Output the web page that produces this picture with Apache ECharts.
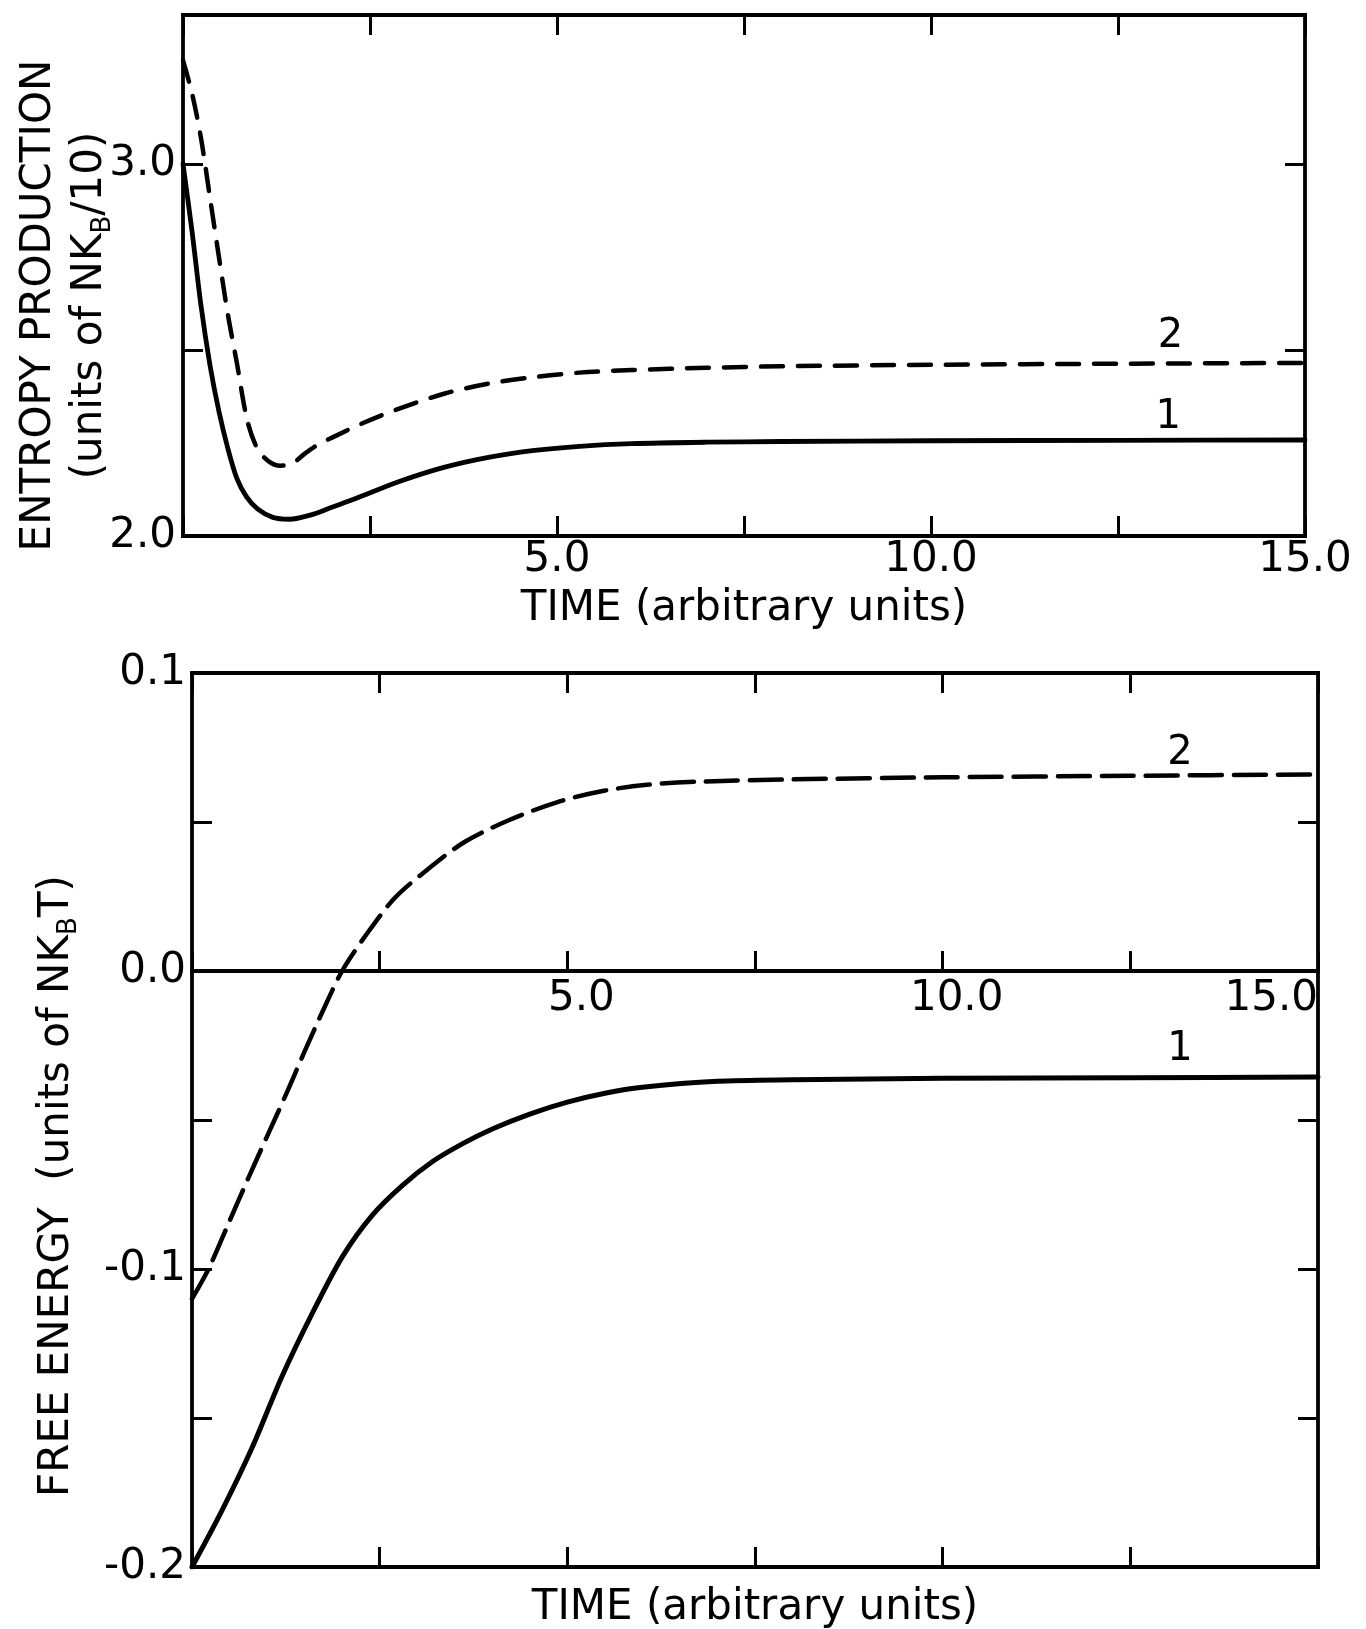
<!DOCTYPE html>
<html>
<head>
<meta charset="utf-8">
<script src="https://cdn.jsdelivr.net/npm/echarts@6/dist/echarts.min.js"></script>
<style>
html,body{margin:0;padding:0;background:#fff;}
#c{width:1366px;height:1629px;}
</style>
</head>
<body>
<div id="c"></div>
<script>
// ---------- data ----------
// Upper panel: entropy production (units of NkB/10) vs time
const entropyTime1 = [0, 0.12, 0.24, 0.36, 0.48, 0.6, 0.72, 0.85, 1.0, 1.2, 1.42, 1.7, 2.0, 2.3, 2.9, 3.5, 4.1, 4.7, 5.3, 6.0, 7.0, 8.0, 10.0, 12.5, 15.0];
const entropy1     = [3.0, 2.82, 2.62, 2.46, 2.335, 2.235, 2.155, 2.105, 2.072, 2.05, 2.045, 2.056, 2.078, 2.10, 2.147, 2.185, 2.212, 2.23, 2.241, 2.248, 2.252, 2.254, 2.256, 2.257, 2.258];
const entropyTime2 = [0, 0.12, 0.24, 0.36, 0.48, 0.6, 0.72, 0.86, 1.0, 1.15, 1.3, 1.45, 1.62, 1.8, 2.0, 2.4, 2.9, 3.5, 4.1, 4.7, 5.3, 6.0, 7.0, 8.0, 10.0, 12.5, 15.0];
const entropy2     = [3.278, 3.19, 3.07, 2.91, 2.75, 2.595, 2.465, 2.31, 2.232, 2.2, 2.189, 2.193, 2.22, 2.245, 2.265, 2.303, 2.343, 2.383, 2.41, 2.427, 2.439, 2.446, 2.452, 2.456, 2.46, 2.463, 2.465];

// Lower panel: free energy (units of NkBT) vs time
const freeTime1 = [0, 0.4, 0.8, 1.2, 1.6, 2.0, 2.4, 2.8, 3.2, 3.6, 4.0, 4.5, 5.0, 5.5, 6.0, 7.0, 8.0, 10.0, 12.5, 15.0];
const free1     = [-0.2, -0.181, -0.16, -0.136, -0.115, -0.096, -0.082, -0.072, -0.064, -0.058, -0.053, -0.048, -0.044, -0.041, -0.039, -0.037, -0.0365, -0.036, -0.0358, -0.0356];
const freeTime2 = [0, 0.22, 0.49, 0.75, 1.0, 1.26, 1.5, 1.75, 2.0, 2.33, 2.7, 3.15, 3.63, 4.22, 4.87, 5.47, 6.06, 6.72, 8.0, 10.0, 12.5, 15.0];
const free2     = [-0.11, -0.1, -0.0845, -0.0695, -0.0555, -0.041, -0.027, -0.013, 0.0, 0.0125, 0.0245, 0.0343, 0.0433, 0.0506, 0.0567, 0.0604, 0.0625, 0.0635, 0.0643, 0.065, 0.0655, 0.066];

// tick labels shown
const timeTickLabels    = [5, 10, 15];
const entropyTickLabels = [2.0, 3.0];
const freeTickLabels    = [0.1, 0.0, -0.1, -0.2];

// curve tags (data coordinates)
const entropyTag1 = [13.17, 2.317];
const entropyTag2 = [13.2, 2.535];
const freeTag1 = [13.16, -0.0265];
const freeTag2 = [13.16, 0.073];

// ---------- chart ----------
const pairs = (xs, ys) => xs.map((x, i) => [x, ys[i]]);
const INK = '#000';
const FONT = 'DejaVu Sans';
const near = (a, b) => Math.abs(a - b) < 1e-6;

const line = {show: true, onZero: false, lineStyle: {color: INK, width: 3.8, cap: 'square'}};
const tick = {show: true, inside: true, length: 20, lineStyle: {color: INK, width: 3}};
const labelBase = {fontFamily: FONT, fontSize: 42, color: INK, hideOverlap: false, showMinLabel: true, showMaxLabel: true};
const noLabel = {show: false};
const common = {type: 'value', splitLine: {show: false}, minorTick: {show: false}, nameMoveOverlap: false};

const timeAxis = {min: 0, max: 15, interval: 2.5};
const fmtTime = v => timeTickLabels.some(t => near(t, v)) ? v.toFixed(1) : '';
const fmtEntropy = v => entropyTickLabels.some(t => near(t, v)) ? v.toFixed(1) : '';
const fmtFree = v => freeTickLabels.some(t => near(t, v)) ? ((v < -1e-9 ? '-' : '') + Math.abs(v).toFixed(1)) : '';

const nameStyle = (lh, padRight) => ({
  fontFamily: FONT, fontSize: 42, color: INK, lineHeight: lh, padding: [0, padRight, 0, 0],
  rich: {s: {fontFamily: FONT, fontSize: 26, color: INK, verticalAlign: 'bottom', lineHeight: 30}}
});

const tag = (coord, text) => ({
  symbol: 'circle', symbolSize: 1, silent: true,
  itemStyle: {color: 'rgba(0,0,0,0)'},
  label: {show: true, position: 'inside', fontFamily: FONT, fontSize: 40, color: INK},
  data: [{coord: coord, value: text, label: {formatter: text}}]
});

const curve = (xi, yi, xs, ys, width, dash, tg, txt) => ({
  name: txt, type: 'line', xAxisIndex: xi, yAxisIndex: yi, data: pairs(xs, ys),
  showSymbol: false, smooth: 0.3, silent: true,
  lineStyle: Object.assign({color: INK, width: width, cap: 'round', join: 'round'}, dash ? {type: dash} : {}),
  markPoint: tag(tg, txt)
});

const option = {
  animation: false,
  backgroundColor: '#fff',
  grid: [
    {left: 183, top: 15, width: 1122, height: 521, outerBoundsMode: 'none', containLabel: false},
    {left: 192, top: 673, width: 1126, height: 894, outerBoundsMode: 'none', containLabel: false},
    // upper third of the lower panel: its bottom edge is the 0.0 line
    {left: 192, top: 673, width: 1126, height: 298, outerBoundsMode: 'none', containLabel: false}
  ],
  xAxis: [
    Object.assign({}, common, timeAxis, {
      gridIndex: 0, position: 'bottom', axisLine: line, axisTick: tick,
      axisLabel: Object.assign({}, labelBase, {margin: 3, formatter: fmtTime}),
      name: 'TIME (arbitrary units)', nameLocation: 'middle', nameGap: 52,
      nameTextStyle: {fontFamily: FONT, fontSize: 42, color: INK}
    }),
    Object.assign({}, common, timeAxis, {gridIndex: 0, position: 'top', axisLine: line, axisTick: tick, axisLabel: noLabel}),
    Object.assign({}, common, timeAxis, {
      gridIndex: 1, position: 'bottom', axisLine: line, axisTick: tick, axisLabel: noLabel,
      name: 'TIME (arbitrary units)', nameLocation: 'middle', nameGap: 20,
      nameTextStyle: {fontFamily: FONT, fontSize: 42, color: INK}
    }),
    Object.assign({}, common, timeAxis, {gridIndex: 1, position: 'top', axisLine: line, axisTick: tick, axisLabel: noLabel}),
    Object.assign({}, common, timeAxis, {
      gridIndex: 2, position: 'bottom', axisLine: line, axisTick: tick,
      axisLabel: Object.assign({}, labelBase, {margin: 7, padding: [0, 0, 0, 28], alignMaxLabel: 'right', formatter: fmtTime})
    })
  ],
  yAxis: [
    Object.assign({}, common, {
      gridIndex: 0, position: 'left', min: 2.0, max: 3.4, interval: 0.5,
      axisLine: line, axisTick: tick,
      axisLabel: Object.assign({}, labelBase, {margin: 7, formatter: fmtEntropy}),
      name: 'ENTROPY PRODUCTION\n(units of NK{s|B}/10)', nameLocation: 'middle', nameRotate: 90, nameGap: 67,
      nameTextStyle: nameStyle(51, 60)
    }),
    Object.assign({}, common, {gridIndex: 0, position: 'right', min: 2.0, max: 3.4, interval: 0.5, axisLine: line, axisTick: tick, axisLabel: noLabel}),
    Object.assign({}, common, {
      gridIndex: 1, position: 'left', min: -0.2, max: 0.1, interval: 0.05,
      axisLine: line, axisTick: tick,
      axisLabel: Object.assign({}, labelBase, {margin: 6, formatter: fmtFree}),
      name: 'FREE ENERGY  (units of NK{s|B}T)', nameLocation: 'middle', nameRotate: 90, nameGap: 110,
      nameTextStyle: nameStyle(50, 132)
    }),
    Object.assign({}, common, {gridIndex: 1, position: 'right', min: -0.2, max: 0.1, interval: 0.05, axisLine: line, axisTick: tick, axisLabel: noLabel}),
    Object.assign({}, common, {gridIndex: 2, position: 'left', min: 0, max: 0.1, show: false})
  ],
  series: [
    curve(0, 0, entropyTime1, entropy1, 4.8, null, entropyTag1, '1'),
    curve(0, 0, entropyTime2, entropy2, 4.5, [22, 15], entropyTag2, '2'),
    curve(2, 2, freeTime1, free1, 5, null, freeTag1, '1'),
    curve(2, 2, freeTime2, free2, 4.5, [32, 12], freeTag2, '2')
  ]
};

const chart = echarts.init(document.getElementById('c'), null, {renderer: 'canvas'});
chart.setOption(option);
</script>
</body>
</html>
